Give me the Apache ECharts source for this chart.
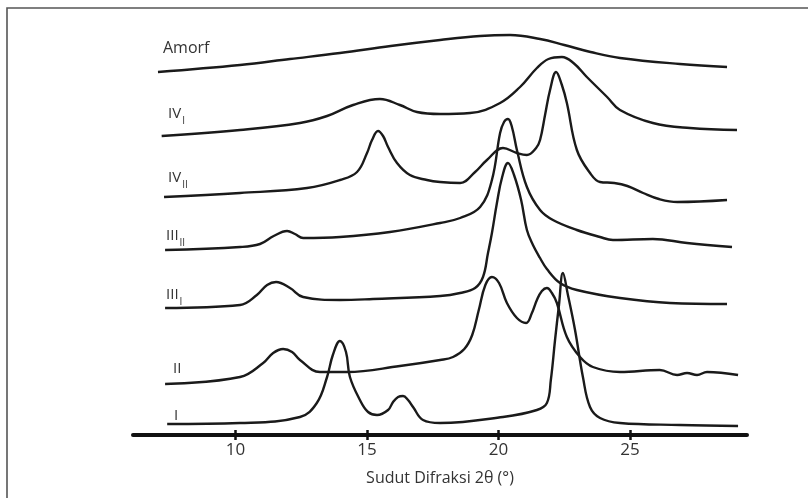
<!DOCTYPE html>
<html><head><meta charset="utf-8">
<script src="https://cdn.jsdelivr.net/npm/echarts@6/dist/echarts.min.js"></script>
<style>html,body{margin:0;padding:0;background:#fff}#chart{width:808px;height:498px}</style>
</head><body><div id="chart"></div>
<script>
// ---- data (2θ in degrees, intensity in arbitrary units, curves stacked with offsets) ----
const xTickValues = [10, 15, 20, 25];
const xAxisTitle = 'Sudut Difraksi 2θ (°)';
const seriesNames = ['Amorf', 'IV_I', 'IV_II', 'III_II', 'III_I', 'II', 'I'];

const amorf = [[7.05,363],[10.17,370],[12.07,376],[13.97,382],[15.9,389],[17.78,395],[19.30,399],[20.44,400],[21.58,396],[22.5,390],[23.5,383],[24.62,377],[26.90,371],[28.69,368]];

const ivI = [[7.19,299],[10.17,305],[12.45,312],[13.48,319],[14.47,330],[15.49,336],[16.25,330],[16.90,323],[17.78,321],[18.92,322],[20.06,332],[20.82,348],[21.46,367],[21.90,376],[22.41,378],[22.85,372],[23.36,358],[24.13,338],[24.62,325],[25.87,312],[27.28,307],[29.07,305]];

const ivII = [[7.28,238],[10.17,242],[12.72,247],[13.97,255],[14.62,263],[15.00,282],[15.19,295],[15.42,304],[15.61,299],[15.80,288],[16.14,272],[16.63,260],[17.28,255],[17.78,253],[18.54,252],[19.11,263],[19.56,275],[20.17,287],[20.70,282],[21.08,280],[21.43,287],[21.58,295],[21.77,320],[21.96,345],[22.19,363],[22.41,350],[22.60,332],[22.98,285],[23.48,262],[23.86,253],[24.40,252],[24.90,249],[25.50,242],[26.10,236],[26.80,233],[28.69,235]];

const iiiII = [[7.32,185],[10.17,188],[10.93,191],[11.45,199],[11.96,204],[12.26,201],[12.57,197],[13.97,198],[15.87,203],[17.78,212],[18.54,217],[19.30,228],[19.75,255],[20.06,302],[20.21,313],[20.36,316],[20.51,308],[20.70,285],[21.08,248],[21.58,225],[22.07,215],[22.98,205],[23.86,198],[24.35,195],[25.87,196],[27.17,192],[28.88,188]];

const iiiI = [[7.32,127],[10.17,130],[10.81,140],[11.20,150],[11.54,153],[12.07,147],[12.57,138],[13.97,135],[15.23,136],[17.78,139],[18.54,142],[19.11,147],[19.41,158],[19.60,182],[19.75,202],[19.94,232],[20.13,257],[20.36,272],[20.59,260],[20.86,235],[21.08,205],[21.31,190],[21.58,177],[21.84,166],[22.34,152],[22.98,145],[24.62,137],[26.52,132],[28.69,131]];

const ii = [[7.32,51],[10.17,58],[11.05,72],[11.43,82],[11.81,86],[12.15,83],[12.45,75],[13.21,63],[14.24,63],[16.25,69],[17.78,75],[18.27,78],[18.70,86],[19.00,100],[19.25,125],[19.50,150],[19.75,158],[20.02,152],[20.32,132],[20.70,117],[21.05,112],[21.27,122],[21.46,135],[21.65,144],[21.84,147],[22.03,142],[22.22,132],[22.60,98],[23.10,78],[23.59,68],[24.62,63],[26.13,65],[26.79,60],[27.17,62],[27.55,60],[27.93,63],[29.11,60]];

const i1 = [[7.40,11],[10.17,12],[12.45,18],[13.09,32],[13.48,58],[13.70,80],[13.97,94],[14.20,83],[14.35,58],[14.73,35],[15.04,23],[15.38,20],[15.80,25],[15.99,33],[16.18,38],[16.37,39],[16.56,35],[16.75,28],[17.13,15],[17.78,12],[20.17,18],[21.46,25],[21.84,32],[21.99,55],[22.15,95],[22.30,130],[22.45,162],[22.64,140],[22.91,105],[23.21,58],[23.48,28],[23.86,17],[24.62,12],[26.90,10],[29.11,9]];

const curves = [amorf, ivI, ivII, iiiII, iiiI, ii, i1];

// ---- layout / style ----
const FONT = "'Open Sans', 'Liberation Sans', sans-serif";
const LINE_COLOR = '#1a1a1a';
const TEXT_COLOR = '#333';
const X_MIN = 6.1, X_MAX = 29.45;
const labelPos = [[163,40],[168,106],[168,170],[166,228],[166,287],[173,361],[174,408]];

function richLabel(name) {
  const parts = name.split('_');
  if (parts.length === 1) return '{m|' + parts[0] + '}';
  return '{m|' + parts[0] + '}{s|' + parts[1] + '}';
}

const chart = echarts.init(document.getElementById('chart'), null, {renderer: 'canvas'});

const gridDef = {left: 133, right: 61, top: 10, bottom: 63, containLabel: false};

const option = {
  animation: false,
  backgroundColor: '#fff',
  grid: [Object.assign({}, gridDef), Object.assign({}, gridDef)],
  xAxis: [
    {
      type: 'value', gridIndex: 0, min: X_MIN, max: X_MAX,
      axisLine: {show: true, lineStyle: {color: '#111', width: 4}},
      axisTick: {show: true, customValues: xTickValues, length: 5, lineStyle: {color: '#111', width: 2.5}},
      axisLabel: {show: true, customValues: xTickValues, margin: 7, fontFamily: FONT, fontSize: 17, color: TEXT_COLOR},
      splitLine: {show: false},
      name: xAxisTitle, nameLocation: 'middle', nameGap: 35,
      nameTextStyle: {fontFamily: FONT, fontSize: 16, color: TEXT_COLOR}
    },
    {
      type: 'value', gridIndex: 1, min: X_MIN, max: X_MAX,
      axisLine: {show: false},
      axisTick: {show: true, inside: true, customValues: xTickValues, length: 5, lineStyle: {color: '#111', width: 2.5}},
      axisLabel: {show: false},
      splitLine: {show: false}
    }
  ],
  yAxis: [
    {type: 'value', gridIndex: 0, min: 0, max: 425, show: false},
    {type: 'value', gridIndex: 1, min: 0, max: 425, show: false}
  ],
  series: curves.map((d, k) => ({
    name: seriesNames[k],
    type: 'line',
    xAxisIndex: 0, yAxisIndex: 0,
    data: d,
    symbol: 'none',
    smooth: 0.4,
    silent: true,
    lineStyle: {color: LINE_COLOR, width: 2.4},
    emphasis: {disabled: true}
  })),
  graphic: [
    {
      type: 'rect', silent: true, z: -1,
      shape: {x: 7, y: 8, width: 900, height: 600},
      style: {fill: null, stroke: '#555', lineWidth: 1.6}
    }
  ].concat(seriesNames.map((n, k) => ({
    type: 'text', silent: true,
    x: labelPos[k][0], y: labelPos[k][1],
    style: {
      text: richLabel(n),
      verticalAlign: 'top', align: 'left',
      rich: {
        m: {fontFamily: FONT, fontSize: k === 0 ? 16 : 15, lineHeight: 19, verticalAlign: 'top', fill: TEXT_COLOR, color: TEXT_COLOR},
        s: {fontFamily: FONT, fontSize: 10, lineHeight: 12, padding: [10, 0, 0, 1], verticalAlign: 'top', fill: TEXT_COLOR, color: TEXT_COLOR}
      }
    }
  })))
};

chart.setOption(option);
</script>
</body></html>
